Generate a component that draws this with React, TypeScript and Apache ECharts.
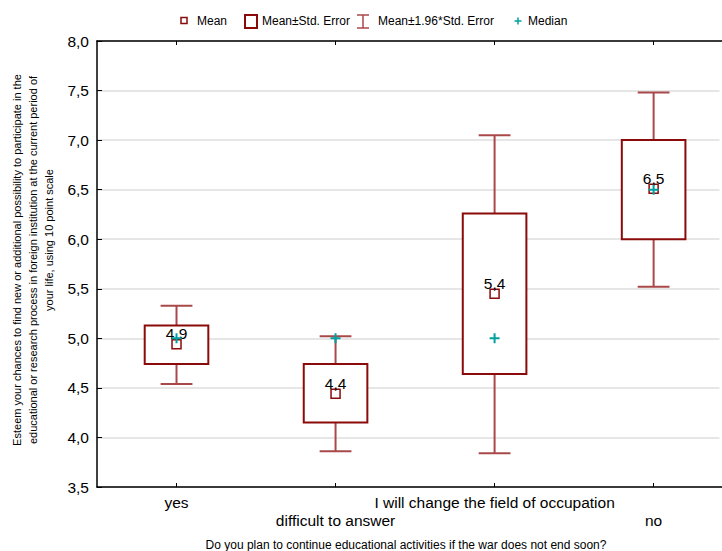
import React, { useEffect, useRef } from "react";
import * as echarts from "echarts";

const categories = ["yes", "difficult to answer", "I will change the field of occupation", "no"];
const categoryPositions = [1, 2, 3, 4];
const means = [4.94, 4.44, 5.45, 6.51];
const meanLabels = ["4,9", "4,4", "5,4", "6,5"];
const boxLow = [4.74, 4.15, 4.64, 6.0];
const boxHigh = [5.13, 4.74, 6.26, 7.0];
const whiskerLow = [4.54, 3.86, 3.84, 5.52];
const whiskerHigh = [5.33, 5.02, 7.05, 7.48];
const medians = [5.0, 5.0, 5.0, 6.5];

const yLabelLines = [
  "Esteem your chances to find new or additional possibility to participate in the",
  "educational or research process in foreign institution at the current period of",
  "your life, using 10 point scale",
];
const xTitle = "Do you plan to continue educational activities if the war does not end soon?";

const DARK = "#8b0a0a";
const WHISK = "#a84848";
const TEAL = "#00a0a0";
const FONT = "Liberation Sans, Arial, sans-serif";

export default function App() {
  const ref = useRef<HTMLDivElement>(null);
  useEffect(() => {
    if (!ref.current) return;
    const chart = echarts.init(ref.current, undefined, { renderer: "svg" });
    const boxData = categoryPositions.map((p, i) => [p, boxLow[i], boxHigh[i], whiskerLow[i], whiskerHigh[i]]);
    const legendText = (x: number, text: string) => ({
      type: "text",
      x,
      y: 21,
      style: { text, font: "12px " + FONT, fill: "#000", textVerticalAlign: "middle" },
    });
    const yLine = (x: number, y: number, text: string) => ({
      type: "text",
      x,
      y,
      rotation: Math.PI / 2,
      style: { text, font: "11px " + FONT, fill: "#000", textAlign: "center", textVerticalAlign: "middle" },
    });
    const xCommon = {
      type: "value",
      min: 0.5,
      max: 4.43,
      splitLine: { show: false },
      axisLine: { onZero: false, lineStyle: { color: "#000", width: 1.5 } },
      axisTick: { show: true, inside: true, length: 4, customValues: categoryPositions, lineStyle: { color: "#000" } },
    };
    const option: any = {
      animation: false,
      textStyle: { fontFamily: FONT },
      grid: { left: 97, top: 41, right: 0, height: 446, containLabel: false, outerBoundsMode: "none" },
      xAxis: [
        {
          ...xCommon,
          position: "bottom",
          axisLabel: {
            customValues: categoryPositions,
            color: "#000",
            fontSize: 15.5,
            fontFamily: FONT,
            lineHeight: 18,
            margin: 6,
            formatter: (v: number) => {
              const i = Math.round(v) - 1;
              const t = categories[i] ?? "";
              return i % 2 ? "\n" + t : t;
            },
          },
        },
        {
          ...xCommon,
          position: "top",
          axisLabel: { show: false },
        },
      ],
      yAxis: {
        type: "value",
        min: 3.5,
        max: 8,
        interval: 0.5,
        axisLine: { show: true, onZero: false, lineStyle: { color: "#000", width: 1.5 } },
        axisTick: { show: true, inside: true, length: 5, lineStyle: { color: "#000" } },
        axisLabel: {
          color: "#000",
          fontSize: 15.5,
          fontFamily: FONT,
          margin: 8,
          formatter: (v: number) => v.toFixed(1).replace(".", ","),
        },
        splitLine: { show: true, lineStyle: { color: "#dedede", width: 1.5 } },
      },
      series: [
        {
          type: "custom",
          z: 2,
          data: boxData,
          encode: { x: 0, y: [1, 2, 3, 4] },
          renderItem: (params: any, api: any) => {
            const p = api.value(0);
            const x = api.coord([p, api.value(1)])[0];
            const yBL = api.coord([p, api.value(1)])[1];
            const yBH = api.coord([p, api.value(2)])[1];
            const yWL = api.coord([p, api.value(3)])[1];
            const yWH = api.coord([p, api.value(4)])[1];
            const band = api.size([1, 0])[0];
            const bw = band * 0.4;
            const cw = band * 0.2;
            const ls = { stroke: WHISK, lineWidth: 2 };
            return {
              type: "group",
              children: [
                { type: "line", shape: { x1: x, y1: yWH, x2: x, y2: yBH }, style: ls },
                { type: "line", shape: { x1: x, y1: yWL, x2: x, y2: yBL }, style: ls },
                { type: "line", shape: { x1: x - cw / 2, y1: yWH, x2: x + cw / 2, y2: yWH }, style: ls },
                { type: "line", shape: { x1: x - cw / 2, y1: yWL, x2: x + cw / 2, y2: yWL }, style: ls },
                {
                  type: "rect",
                  shape: { x: x - bw / 2, y: yBH, width: bw, height: yBL - yBH },
                  style: { fill: "#fff", stroke: DARK, lineWidth: 2 },
                },
              ],
            };
          },
        },
        {
          type: "scatter",
          z: 3,
          symbol: "rect",
          symbolSize: 9,
          data: means.map((m, i) => [categoryPositions[i], m]),
          itemStyle: { color: "#fff", borderColor: DARK, borderWidth: 1.5, opacity: 1 },
          label: {
            show: true,
            position: "inside",
            offset: [0, -10.5],
            color: "#000",
            fontSize: 15.5,
            fontFamily: FONT,
            formatter: (p: any) => meanLabels[p.dataIndex],
          },
        },
        {
          type: "scatter",
          z: 4,
          symbol: "path://M4,0 H6 V4 H10 V6 H6 V10 H4 V6 H0 V4 H4 Z",
          symbolSize: 10,
          data: medians.map((m, i) => [categoryPositions[i], m]),
          itemStyle: { color: TEAL, opacity: 1 },
        },
      ],
      graphic: [
        // mask over the clipped right edge of the plot frame
        { type: "rect", z: 1000, shape: { x: 719.5, y: 42.5, width: 4, height: 443 }, style: { fill: "#fff" } },
        // legend
        { type: "rect", shape: { x: 181, y: 17.5, width: 6, height: 6 }, style: { fill: "#fff", stroke: DARK, lineWidth: 1.5 } },
        legendText(197, "Mean"),
        { type: "rect", shape: { x: 245, y: 15, width: 12, height: 13 }, style: { fill: "#fff", stroke: DARK, lineWidth: 2 } },
        legendText(262, "Mean±Std. Error"),
        { type: "line", shape: { x1: 363, y1: 15, x2: 363, y2: 28 }, style: { stroke: WHISK, lineWidth: 1.5 } },
        { type: "line", shape: { x1: 357, y1: 15, x2: 369, y2: 15 }, style: { stroke: WHISK, lineWidth: 1.5 } },
        { type: "line", shape: { x1: 357, y1: 28, x2: 369, y2: 28 }, style: { stroke: WHISK, lineWidth: 1.5 } },
        legendText(378, "Mean±1.96*Std. Error"),
        { type: "line", shape: { x1: 514.5, y1: 21, x2: 521.5, y2: 21 }, style: { stroke: TEAL, lineWidth: 1.5 } },
        { type: "line", shape: { x1: 518, y1: 17.5, x2: 518, y2: 24.5 }, style: { stroke: TEAL, lineWidth: 1.5 } },
        legendText(528, "Median"),
        // y axis title
        yLine(17, 260, yLabelLines[0]),
        yLine(33, 260, yLabelLines[1]),
        yLine(49, 240, yLabelLines[2]),
        // x axis title
        {
          type: "text",
          x: 406,
          y: 545,
          style: { text: xTitle, font: "12px " + FONT, fill: "#000", textAlign: "center", textVerticalAlign: "middle" },
        },
      ],
    };
    chart.setOption(option);
    return () => chart.dispose();
  }, []);
  return <div ref={ref} style={{ position: "fixed", left: 0, top: 0, width: 722, height: 551, background: "#fff" }} />;
}
